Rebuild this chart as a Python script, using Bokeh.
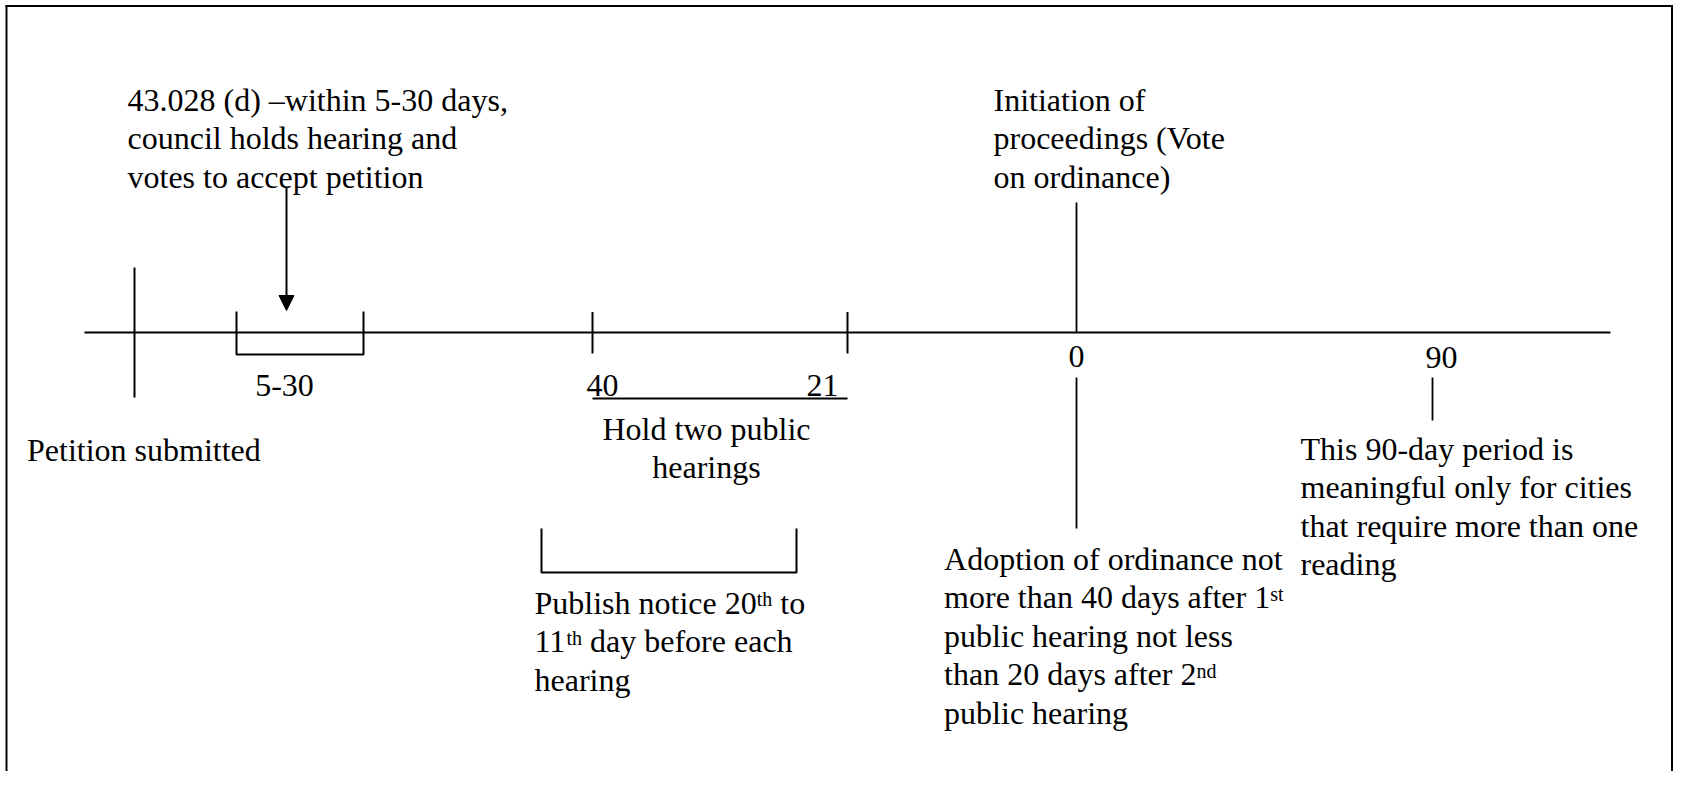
from bokeh.plotting import figure
from bokeh.models import Range1d, Arrow, NormalHead
from bokeh.core.properties import value
from bokeh.embed import file_html
from bokeh.resources import INLINE

# ---------------- content ----------------
tick_labels = ["5-30", "40", "21", "0", "90"]
petition_label = ["Petition submitted"]
council_lines = ["43.028 (d) \u2013within 5-30 days,", "council holds hearing and", "votes to accept petition"]
initiation_lines = ["Initiation of", "proceedings (Vote", "on ordinance)"]
hearing_lines = ["Hold two public", "hearings"]
period_lines = ["This 90-day period is", "meaningful only for cities",
                "that require more than one", "reading"]
# (text, is_superscript)
adoption_lines = [
    [("Adoption of ordinance not", 0)],
    [("more than 40 days after 1", 0), ("st", 1)],
    [("public hearing not less", 0)],
    [("than 20 days after 2", 0), ("nd", 1)],
    [("public hearing", 0)],
]
publish_lines = [
    [("Publish notice 20", 0), ("th", 1), (" to", 0)],
    [("11", 0), ("th", 1), (" day before each", 0)],
    [("hearing", 0)],
]

# ---------------- layout ----------------
W, H = 1673, 771          # figure size in px (1 data unit = 1 px)
FONT = "Liberation Serif"
FS, SUP, RAISE, LH = 32, 20, 8, 38.5
BASE_FIX = 0.37           # baseline correction (fraction of font size)
LW = 2

# Times / Liberation Serif advance widths (per 1000 em)
ADV = {" ": 250, "(": 333, ")": 333, ",": 250, "-": 333, ".": 250, "\u2013": 500,
       "A": 722, "H": 722, "I": 333, "P": 556, "T": 611, "V": 722,
       "a": 444, "b": 500, "c": 444, "d": 500, "e": 444, "f": 333, "g": 500, "h": 500,
       "i": 278, "l": 278, "m": 778, "n": 500, "o": 500, "p": 500, "q": 500, "r": 333,
       "s": 389, "t": 278, "u": 500, "v": 500, "w": 722, "y": 500}
for dgt in "0123456789":
    ADV[dgt] = 500


def tw(s, size):
    return sum(ADV.get(c, 500) for c in s) * size / 1000.0


p = figure(width=W, height=H, output_backend="svg", toolbar_location=None,
           x_range=Range1d(0, W), y_range=Range1d(H, 0),
           min_border=0, background_fill_color="white", border_fill_color="white")
p.axis.visible = False
p.grid.visible = False
p.outline_line_color = None

# frame (top, left, right)
p.segment(x0=[5, 6, W - 1.5], y0=[5.5, 5, 5],
          x1=[W, 6, W - 1.5], y1=[5.5, H, H],
          line_color="black", line_width=LW)

# main time line
p.segment(x0=[84], y0=[332], x1=[1610], y1=[332], line_color="black", line_width=LW)

# ticks: petition, 40, 21
p.segment(x0=[134, 592, 847], y0=[267, 311.5, 311.5], x1=[134, 592, 847], y1=[397, 353, 353],
          line_color="black", line_width=LW)

# 5-30 bracket and publish-notice bracket
p.multi_line(xs=[[236, 236, 363, 363], [541, 541, 796, 796]],
             ys=[[311, 354, 354, 311], [528, 572, 572, 528]],
             line_color="black", line_width=LW)

# underline 40 ... 21
p.segment(x0=[592], y0=[398], x1=[847], y1=[398], line_color="black", line_width=1.8)

# vertical lines at 0 and 90
p.segment(x0=[1076, 1076, 1432], y0=[202, 377, 377], x1=[1076, 1076, 1432], y1=[332, 528, 420],
          line_color="black", line_width=1.8)

# arrow into the 5-30 window
p.add_layout(Arrow(end=NormalHead(size=15, fill_color="black", line_color="black"),
                   x_start=286, y_start=187, x_end=286, y_end=310,
                   line_color="black", line_width=LW))

# ---------------- texts ----------------
items = []  # x, y(baseline), text, size, align


def block(lines, x, y0, align="left"):
    for i, t in enumerate(lines):
        items.append((x, y0 + i * LH, t, FS, align))


def rich_block(lines, x, y0):
    for i, segs in enumerate(lines):
        cx = x
        y = y0 + i * LH
        for t, sup in segs:
            size = SUP if sup else FS
            yy = y - RAISE if sup else y
            s = t.lstrip(" ")
            cx += tw(t[:len(t) - len(s)], size)
            items.append((cx, yy, s, size, "left"))
            cx += tw(s, size)


block(council_lines, 127, 111)
block(initiation_lines, 993, 111)
block(petition_label, 26.5, 461)
block(hearing_lines, 706, 440, "center")
block(period_lines, 1300, 460)
rich_block(adoption_lines, 943.6, 570)
rich_block(publish_lines, 534, 614)

# tick labels
items.append((284, 397, tick_labels[0], FS, "center"))
items.append((586, 397, tick_labels[1], FS, "left"))
items.append((838, 397, tick_labels[2], FS, "right"))
items.append((1076, 368, tick_labels[3], FS, "center"))
items.append((1441, 369, tick_labels[4], FS, "center"))

for align in ("left", "center", "right"):
    for size in (FS, SUP):
        sel = [it for it in items if it[4] == align and it[3] == size]
        if not sel:
            continue
        p.text(x=[s[0] for s in sel], y=[s[1] - BASE_FIX * size for s in sel],
               text=[s[2] for s in sel],
               text_font=value(FONT), text_font_size=f"{size}px", text_color="black",
               text_align=align, text_baseline="alphabetic")

open("out.html", "w").write(file_html(p, INLINE))
